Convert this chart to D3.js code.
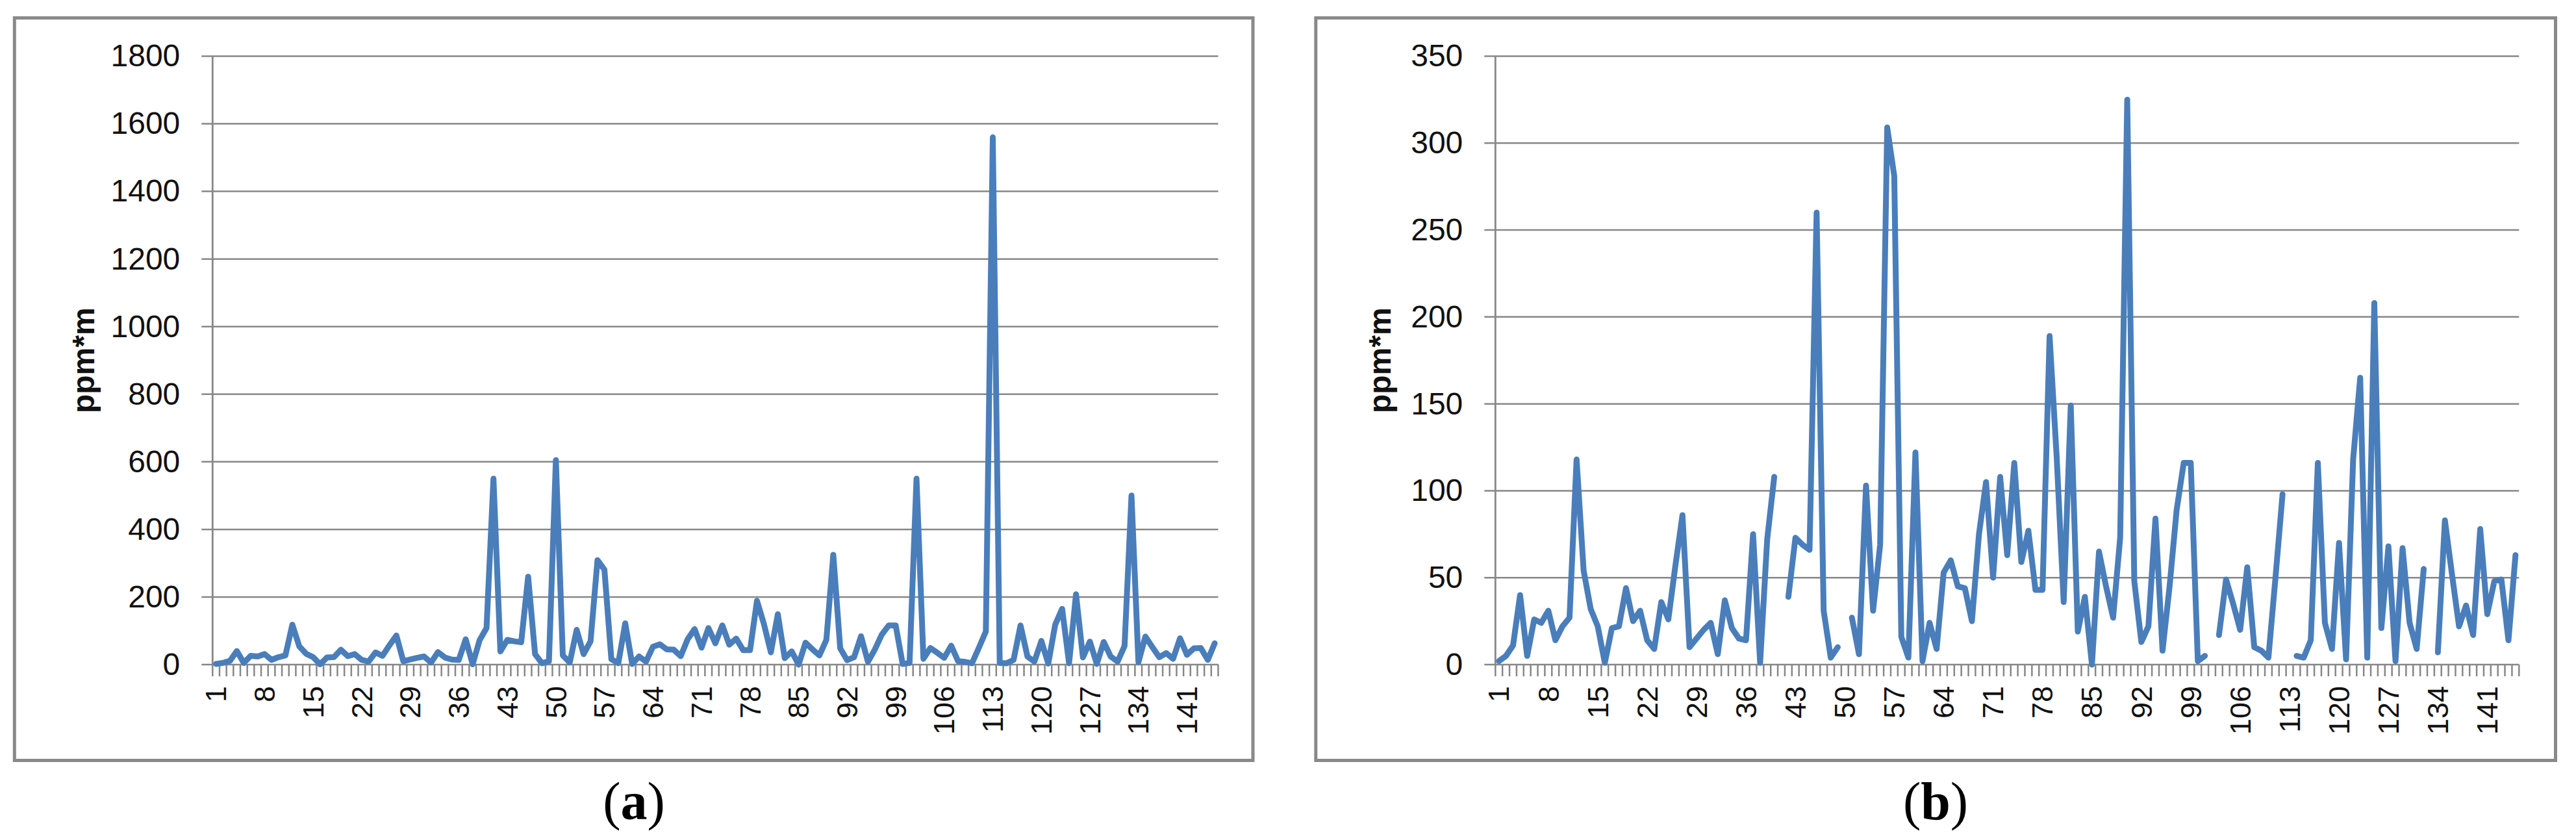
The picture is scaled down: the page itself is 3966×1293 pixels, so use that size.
<!DOCTYPE html>
<html>
<head>
<meta charset="utf-8">
<script src="https://cdn.jsdelivr.net/npm/d3@7/dist/d3.min.js"></script>
<style>
  html, body { margin: 0; padding: 0; background: #ffffff; }
  svg { display: block; }
</style>
</head>
<body>
<script>
// ---------------- DATA ----------------
const categories = d3.range(1, 146); // sample numbers 1..145

// (a) full series, ppm*m
const seriesA = [
  2, 5, 11, 40, 5, 26, 24, 31, 14, 22,
  27, 118, 54, 32, 22, 1, 21, 22, 44, 25,
  31, 14, 9, 36, 26, 57, 86, 10, 15, 20,
  24, 6, 37, 21, 15, 14, 75, 1, 72, 108,
  550, 39, 73, 69, 66, 260, 31, 4, 10, 605,
  27, 6, 103, 31, 69, 309, 281, 16, 4, 122,
  2, 24, 9, 53, 60, 45, 44, 25, 75, 105,
  50, 108, 63, 116, 59, 77, 43, 43, 189, 120,
  36, 149, 19, 39, 0, 65, 45, 27, 73, 325,
  48, 13, 22, 84, 8, 45, 89, 116, 116, 2,
  5, 550, 17, 49, 35, 20, 56, 10, 8, 4,
  50, 98, 1560, 5, 4, 14, 116, 24, 9, 70,
  3, 118, 165, 4, 208, 21, 68, 2, 67, 24,
  9, 55, 500, 7, 83, 52, 22, 34, 17, 78,
  29, 48, 49, 14, 63
];

// (b) same series without the high readings (gaps)
const seriesB = [
  2, 5, 11, 40, 5, 26, 24, 31, 14, 22,
  27, 118, 54, 32, 22, 1, 21, 22, 44, 25,
  31, 14, 9, 36, 26, 57, 86, 10, 15, 20,
  24, 6, 37, 21, 15, 14, 75, 1, 72, 108,
  null, 39, 73, 69, 66, 260, 31, 4, 10, null,
  27, 6, 103, 31, 69, 309, 281, 16, 4, 122,
  2, 24, 9, 53, 60, 45, 44, 25, 75, 105,
  50, 108, 63, 116, 59, 77, 43, 43, 189, 120,
  36, 149, 19, 39, 0, 65, 45, 27, 73, 325,
  48, 13, 22, 84, 8, 45, 89, 116, 116, 2,
  5, null, 17, 49, 35, 20, 56, 10, 8, 4,
  50, 98, null, 5, 4, 14, 116, 24, 9, 70,
  3, 118, 165, 4, 208, 21, 68, 2, 67, 24,
  9, 55, null, 7, 83, 52, 22, 34, 17, 78,
  29, 48, 49, 14, 63
];

const xTickLabels = [1, 8, 15, 22, 29, 36, 43, 50, 57, 64, 71, 78, 85, 92, 99, 106, 113, 120, 127, 134, 141];
const yTicksA = [0, 200, 400, 600, 800, 1000, 1200, 1400, 1600, 1800];
const yTicksB = [0, 50, 100, 150, 200, 250, 300, 350];
const yTitle = "ppm*m";
const captions = ["a", "b"];

// ---------------- LAYOUT ----------------
const W = 3966, H = 1293;
const panels = [
  { data: seriesA, ticks: yTicksA, yMax: 1800, caption: captions[0],
    box: [22.3, 27.6, 1929, 1170.5], x0: 327.3, x1: 1875.5, titleX: 132, capX: 976 },
  { data: seriesB, ticks: yTicksB, yMax: 350, caption: captions[1],
    box: [2025.8, 27.6, 3934.5, 1170.5], x0: 2302.3, x1: 3878.3, titleX: 2128, capX: 2980 }
];
const yBottom = 1023, yTop = 86.5;
const gridColor = "#878787";
const lineColor = "#4a7ebb";

const svg = d3.select("body").append("svg")
  .attr("width", W).attr("height", H)
  .attr("viewBox", `0 0 ${W} ${H}`);
svg.append("rect").attr("width", W).attr("height", H).attr("fill", "#ffffff");

panels.forEach(p => {
  const g = svg.append("g");

  // outer chart-area border
  g.append("rect")
    .attr("x", p.box[0]).attr("y", p.box[1])
    .attr("width", p.box[2] - p.box[0]).attr("height", p.box[3] - p.box[1])
    .attr("fill", "none").attr("stroke", "#898989").attr("stroke-width", 5);

  const x = d3.scalePoint().domain(categories).range([p.x0, p.x1]).padding(0.5);
  const step = x.step();
  const y = d3.scaleLinear().domain([0, p.yMax]).range([yBottom, yTop]);

  // horizontal gridlines (with outside tick stubs) and y labels
  const yAxis = d3.axisLeft(y).tickValues(p.ticks).tickSize(0).tickPadding(50)
    .tickFormat(d3.format("d"));
  const ya = g.append("g").attr("transform", `translate(${p.x0},0)`).call(yAxis);
  ya.select(".domain").remove();
  ya.selectAll("text")
    .attr("font-family", "'Liberation Sans', Arial, sans-serif")
    .attr("font-size", 48).attr("fill", "#111");

  g.append("g").selectAll("line").data(p.ticks).join("line")
    .attr("x1", p.x0 - 17).attr("x2", p.x1)
    .attr("y1", d => y(d)).attr("y2", d => y(d))
    .attr("stroke", gridColor).attr("stroke-width", 2.5);

  // vertical axis line
  g.append("line")
    .attr("x1", p.x0).attr("x2", p.x0)
    .attr("y1", y(p.yMax)).attr("y2", yBottom)
    .attr("stroke", gridColor).attr("stroke-width", 2.8);

  // category tick marks (between categories)
  const bounds = [x(categories[0]) - step / 2].concat(categories.map(c => x(c) + step / 2));
  g.append("g").selectAll("line").data(bounds).join("line")
    .attr("x1", d => d).attr("x2", d => d)
    .attr("y1", yBottom).attr("y2", yBottom + 18)
    .attr("stroke", gridColor).attr("stroke-width", 2.5);

  // category labels, rotated
  g.append("g").selectAll("text").data(xTickLabels).join("text")
    .attr("transform", d => `translate(${x(d)},${yBottom + 33}) rotate(-90)`)
    .attr("text-anchor", "end").attr("dy", "0.35em")
    .attr("font-family", "'Liberation Sans', Arial, sans-serif")
    .attr("font-size", 45).attr("fill", "#111")
    .text(d => d);

  // y axis title
  g.append("text")
    .attr("transform", `translate(${p.titleX},${(yTop + yBottom) / 2}) rotate(-90)`)
    .attr("text-anchor", "middle").attr("dy", "0.27em")
    .attr("font-family", "'Liberation Sans', Arial, sans-serif")
    .attr("font-weight", "bold").attr("font-size", 48).attr("fill", "#111")
    .text(yTitle);

  // data line
  const line = d3.line()
    .defined(d => d.v !== null && d.v !== undefined)
    .x(d => x(d.c)).y(d => y(d.v));
  g.append("path")
    .datum(categories.map((c, i) => ({ c, v: p.data[i] })))
    .attr("d", line)
    .attr("fill", "none").attr("stroke", lineColor)
    .attr("stroke-width", 9).attr("stroke-linejoin", "round").attr("stroke-linecap", "round");

  // caption (a)/(b)
  const cap = svg.append("text")
    .attr("x", p.capX).attr("y", 1261)
    .attr("text-anchor", "middle")
    .attr("font-family", "'Liberation Serif', 'Times New Roman', serif")
    .attr("font-size", 82).attr("fill", "#000");
  cap.append("tspan").text("(");
  cap.append("tspan").attr("font-weight", "bold").text(p.caption);
  cap.append("tspan").text(")");
});
</script>
</body>
</html>
